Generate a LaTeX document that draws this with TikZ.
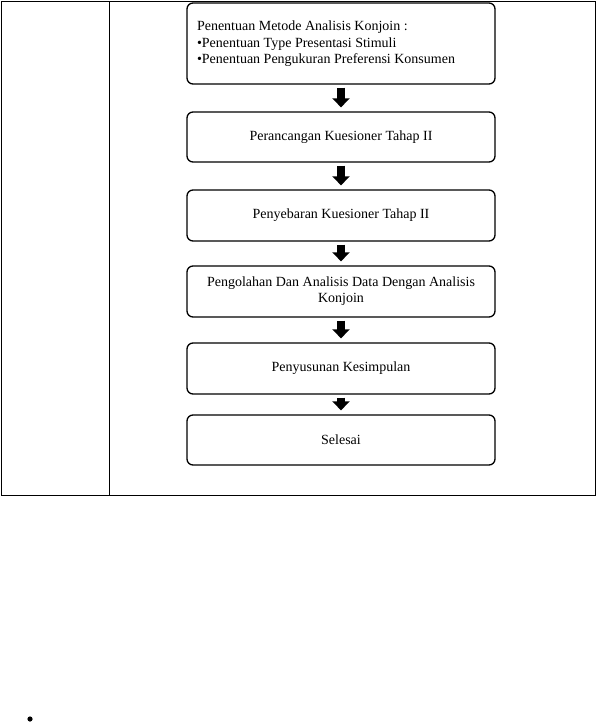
\documentclass[tikz,border=0pt]{standalone}
\usepackage{fontspec}
\setmainfont{Liberation Serif}
\usetikzlibrary{arrows.meta}
\begin{document}
\begin{tikzpicture}[x=1pt,y=-1pt,
  stepbox/.style={draw=black,line width=1.3pt,rounded corners=6pt,minimum width=308pt,inner sep=0pt,font=\fontsize{14}{16}\selectfont,align=center},
  blockarrow/.style={line width=8pt,-{Triangle[width=17pt,length=9pt]},shorten <=3pt,shorten >=4pt},
  tableline/.style={line width=1pt}]
\useasboundingbox (0,0) rectangle (597,723);
\draw[tableline] (1.5,1.5) rectangle (595,495);
\draw[tableline] (109,1.5) -- (109,495);
\node[stepbox,minimum height=81pt,text width=288pt,align=flush left] (b1) at (341,43.5) {Penentuan Metode Analisis Konjoin :\\[1pt]\textbullet Penentuan Type Presentasi Stimuli\\\textbullet Penentuan Pengukuran Preferensi Konsumen};
\node[stepbox,minimum height=50pt] (b2) at (341,137) {Perancangan Kuesioner Tahap II};
\node[stepbox,minimum height=51pt] (b3) at (341,215.5) {Penyebaran Kuesioner Tahap II};
\node[stepbox,minimum height=51pt] (b4) at (341,291.5) {Pengolahan Dan Analisis Data Dengan Analisis\\Konjoin};
\node[stepbox,minimum height=51pt] (b5) at (341,368.5) {Penyusunan Kesimpulan};
\node[stepbox,minimum height=50pt] (b6) at (341,440) {Selesai};
\draw[blockarrow] (b1) -- (b2);
\draw[blockarrow] (b2) -- (b3);
\draw[blockarrow] (b3) -- (b4);
\draw[blockarrow] (b4) -- (b5);
\draw[blockarrow] (b5) -- (b6);
\fill (30,719) circle (2.6pt);
\end{tikzpicture}
\end{document}
